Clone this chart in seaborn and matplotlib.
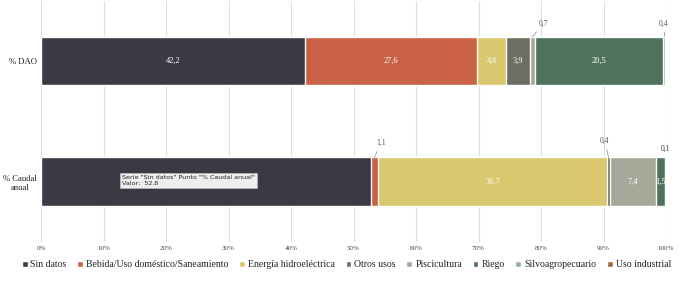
import numpy as np
import pandas as pd
import matplotlib
matplotlib.use("Agg")
import matplotlib.pyplot as plt
from matplotlib.patches import Patch
import seaborn as sns

# Data
rows = ["% DAO", "% Caudal\nanual"]
categories = ["Sin datos", "Bebida/Uso doméstico/Saneamiento", "Energía hidroeléctrica",
              "Otros usos", "Piscicultura", "Riego", "Silvoagropecuario", "Uso industrial"]
dao = [42.2, 27.6, 4.6, 3.9, 0.7, 20.5, 0.3, 0.4]
caudal = [52.8, 1.1, 36.7, 0.4, 7.4, 1.5, 0.0, 0.1]
colors = ["#393a43", "#c96245", "#d9c86e", "#6b6e60", "#a6a899", "#4e725c", "#93b29a", "#9c6a3b"]
xticks = [0, 10, 20, 30, 40, 50, 60, 70, 80, 90, 100]

df = pd.DataFrame({"cat": np.repeat(categories, 2),
                   "row": rows * len(categories),
                   "val": [v for pair in zip(dao, caudal) for v in pair]})
df["cum"] = df.groupby("row", sort=False)["val"].cumsum()

sns.set_theme(style="white")
plt.rcParams["font.family"] = ["Liberation Serif", "DejaVu Serif"]

fig = plt.figure(figsize=(6.79, 2.82), dpi=100)
ax = fig.add_axes([0.0604, 0.142, 0.9205, 0.856])

# stacked bars: draw cumulative totals from the last category back to the first
for i in reversed(range(len(categories))):
    sub = df[df["cat"] == categories[i]]
    sns.barplot(data=sub, x="cum", y="row", orient="h", color=colors[i],
                width=0.4, saturation=1, ax=ax, zorder=2)

ax.set_xlim(0, 100)
ax.set_ylim(1.5, -0.5)
ax.set_xticks(xticks)
ax.set_xticklabels([f"{t}%" for t in xticks], fontsize=5, color="#444444")
ax.tick_params(axis="y", labelsize=6.2, colors="#222222", length=0, pad=3)
ax.tick_params(axis="x", length=0, pad=3)
for t in ax.get_yticklabels():
    t.set_multialignment("center")
ax.set_xlabel("")
ax.set_ylabel("")
ax.xaxis.grid(True, color="#dddddd", lw=0.8, zorder=0)
for s in ax.spines.values():
    s.set_visible(False)

# labels inside segments (the 52,8 one is hidden under the tooltip in the original)
for r, vals in enumerate([dao, caudal]):
    left = 0
    for j, v in enumerate(vals):
        if v >= 1.5 and not (r == 1 and j == 0):
            ax.text(left + v / 2, r, f"{v:.1f}".replace(".", ","), ha="center", va="center",
                    color="white", fontsize=6, zorder=3)
        left += v

# small values with leader lines
small = [
    (0, 78.65, "0,7", 79.6, -0.31, "left"),
    (0, 99.8, "0,4", 99.6, -0.31, "center"),
    (1, 53.35, "1,1", 54.4, 0.68, "center"),
    (1, 90.8, "0,4", 90.2, 0.66, "center"),
]
for r, xv, lab, tx, ty, ha in small:
    ax.annotate(lab, xy=(xv, r - 0.2), xytext=(tx, ty), fontsize=5.5, color="#555555",
                ha=ha, va="center",
                arrowprops=dict(arrowstyle="-", color="#999999", lw=0.6, shrinkA=1, shrinkB=0))
ax.text(99.9, 0.73, "0,1", fontsize=5.5, color="#333333", ha="center", va="center")

# tooltip box
ax.text(13.0, 0.99, 'Serie "Sin datos" Punto "% Caudal anual"\nValor:  52,8', fontsize=4.6,
        family=["DejaVu Sans"], color="#222222", va="center", ha="left", zorder=5,
        bbox=dict(boxstyle="square,pad=0.35", fc="#eeeeee", ec="#bbbbbb", lw=0.5))

handles = [Patch(facecolor=c, label=n) for c, n in zip(colors, categories)]
fig.legend(handles=handles, loc="center", bbox_to_anchor=(0.51, 0.062), ncol=8, frameon=False,
           fontsize=7, handlelength=0.6, handleheight=0.6, handletextpad=0.3,
           columnspacing=1.1, labelcolor="#222222")

fig.savefig("out.png", dpi=100)
